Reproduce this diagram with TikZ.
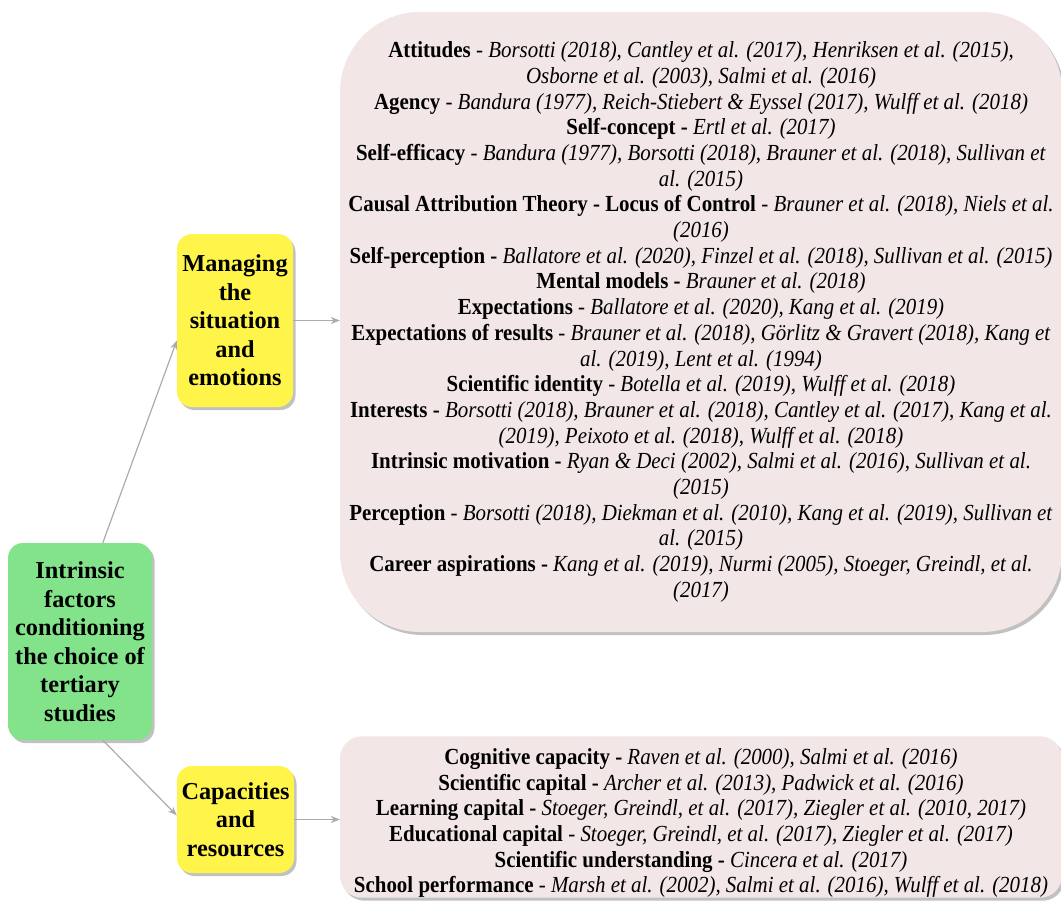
\documentclass[tikz,border=0pt]{standalone}
\usepackage{fontspec}
\setmainfont{Liberation Serif}[FakeStretch=0.91]
\newfontfamily\topicfont{Liberation Serif}
\usetikzlibrary{arrows.meta,shadows}

\definecolor{rootgreen}{HTML}{82E38B}
\definecolor{topicyellow}{HTML}{FFF44A}
\definecolor{listpink}{HTML}{F2E6E6}
\definecolor{linkgray}{HTML}{ABABAB}

\begin{document}
\begin{tikzpicture}[x=1pt,y=-1pt,
    boxshadow/.style={drop shadow={shadow xshift=2.5pt,shadow yshift=-3pt,fill=black!30,opacity=0.8}},
    rootbox/.style={rounded corners=15pt, fill=rootgreen, boxshadow, align=center, inner sep=0pt,
      font=\topicfont\bfseries\fontsize{24.3}{28.5}\selectfont},
    topicbox/.style={rounded corners=15pt, fill=topicyellow, boxshadow, align=center, inner sep=0pt,
      font=\topicfont\bfseries\fontsize{24.3}{28.5}\selectfont},
    listbox/.style={fill=listpink, boxshadow, align=center, inner sep=0pt,
      font=\fontsize{23}{25.7}\selectfont},
    link/.style={draw=linkgray, line width=1.2pt, -{Stealth[length=9pt,width=7pt]}}]
  \useasboundingbox (0,0) rectangle (1061,902);

  % Root and the two groups of factors
  \node[rootbox, minimum width=144pt, minimum height=197pt] (root) at (80,641.5)
    {Intrinsic\\factors\\conditioning\\the choice of\\tertiary\\studies};
  \node[topicbox, minimum width=116pt, minimum height=173pt] (manage) at (235,320.5)
    {Managing\\the\\situation\\and\\emotions};
  \node[topicbox, minimum width=117pt, minimum height=107pt] (capac) at (235.5,819.5)
    {Capacities\\and\\resources};

  % Lists of factors with their references
  \node[listbox, rounded corners=80pt, minimum width=722pt, minimum height=620pt] (emolist) at (701,322) {%
    \textbf{Attitudes} - \textit{Borsotti (2018), Cantley et al. (2017), Henriksen et al. (2015),}\\
    \textit{Osborne et al. (2003), Salmi et al. (2016)}\\
    \textbf{Agency} - \textit{Bandura (1977), Reich-Stiebert \& Eyssel (2017), Wulff et al. (2018)}\\
    \textbf{Self-concept -} \textit{Ertl et al. (2017)}\\
    \textbf{Self-efficacy} - \textit{Bandura (1977), Borsotti (2018), Brauner et al. (2018), Sullivan et}\\
    \textit{al. (2015)}\\
    \textbf{Causal Attribution Theory - Locus of Control} - \textit{Brauner et al. (2018), Niels et al.}\\
    \textit{(2016)}\\
    \textbf{Self-perception -} \textit{Ballatore et al. (2020), Finzel et al. (2018), Sullivan et al. (2015)}\\
    \textbf{Mental models -} \textit{Brauner et al. (2018)}\\
    \textbf{Expectations} - \textit{Ballatore et al. (2020), Kang et al. (2019)}\\
    \textbf{Expectations of results} - \textit{Brauner et al. (2018), Görlitz \& Gravert (2018), Kang et}\\
    \textit{al. (2019), Lent et al. (1994)}\\
    \textbf{Scientific identity} - \textit{Botella et al. (2019), Wulff et al. (2018)}\\
    \textbf{Interests -} \textit{Borsotti (2018), Brauner et al. (2018), Cantley et al. (2017), Kang et al.}\\
    \textit{(2019), Peixoto et al. (2018), Wulff et al. (2018)}\\
    \textbf{Intrinsic motivation -} \textit{Ryan \& Deci (2002), Salmi et al. (2016), Sullivan et al.}\\
    \textit{(2015)}\\
    \textbf{Perception} - \textit{Borsotti (2018), Diekman et al. (2010), Kang et al. (2019), Sullivan et}\\
    \textit{al. (2015)}\\
    \textbf{Career aspirations -} \textit{Kang et al. (2019), Nurmi (2005), Stoeger, Greindl, et al.}\\
    \textit{(2017)}};
  \node[listbox, rounded corners=22pt, minimum width=722pt, minimum height=160pt] (caplist) at (701,817) {%
    \rule{0pt}{28pt}\textbf{Cognitive capacity -} \textit{Raven et al. (2000), Salmi et al. (2016)}\\
    \textbf{Scientific capital -} \textit{Archer et al. (2013), Padwick et al. (2016)}\\
    \textbf{Learning capital -} \textit{Stoeger, Greindl, et al. (2017), Ziegler et al. (2010, 2017)}\\
    \textbf{Educational capital} - \textit{Stoeger, Greindl, et al. (2017), Ziegler et al. (2017)}\\
    \textbf{Scientific understanding -} \textit{Cincera et al. (2017)}\\
    \textbf{School performance} - \textit{Marsh et al. (2002), Salmi et al. (2016), Wulff et al. (2018)}};

  % Connectors
  \draw[link] (root.77) -- (manage.199);
  \draw[link] (root.283) -- (capac.176);
  \draw[link] (manage.east) -- (manage.east -| emolist.west);
  \draw[link] (capac.east) -- (capac.east -| caplist.west);
\end{tikzpicture}
\end{document}
